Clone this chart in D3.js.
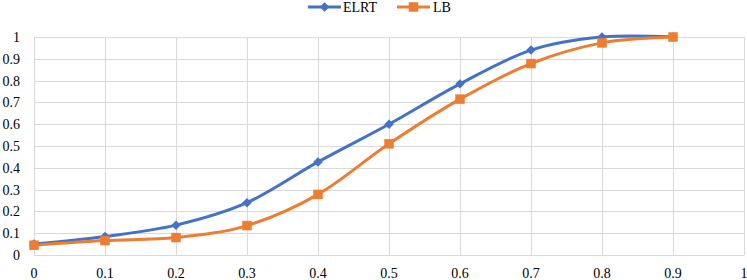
<!DOCTYPE html>
<meta charset="utf-8">
<style>
body { margin: 0; background: #fff; }
text { font-family: "Liberation Serif", "DejaVu Serif", serif; font-size: 14px; }
.grid line { stroke: #d9d9d9; stroke-width: 1; }
</style>
<script src="https://cdn.jsdelivr.net/npm/d3@7"></script>
<body>
<svg id="chart" width="747" height="280"></svg>
<script>
var xValues = [0, 0.1, 0.2, 0.3, 0.4, 0.5, 0.6, 0.7, 0.8, 0.9];
var elrt = [0.05, 0.085, 0.137, 0.24, 0.427, 0.60, 0.785, 0.94, 1.0, 1.0];
var lb = [0.045, 0.066, 0.08, 0.135, 0.278, 0.51, 0.715, 0.878, 0.973, 1.0];
var xTicks = [0, 0.1, 0.2, 0.3, 0.4, 0.5, 0.6, 0.7, 0.8, 0.9, 1];
var yTicks = [0, 0.1, 0.2, 0.3, 0.4, 0.5, 0.6, 0.7, 0.8, 0.9, 1];

var serif = "Liberation Serif, DejaVu Serif, serif";
var svg = d3.select("#chart");
var x = d3.scaleLinear().domain([0, 1]).range([34, 744]);
var y = d3.scaleLinear().domain([0, 1]).range([255, 37]);

// gridlines
var grid = svg.append("g").attr("class", "grid");
grid.selectAll(".gx").data(xTicks).enter().append("line")
    .attr("x1", function(d) { return Math.round(x(d)) + 0.5; })
    .attr("x2", function(d) { return Math.round(x(d)) + 0.5; })
    .attr("y1", y(1)).attr("y2", y(0));
grid.selectAll(".gy").data(yTicks).enter().append("line")
    .attr("x1", x(0)).attr("x2", x(1))
    .attr("y1", function(d) { return Math.round(y(d)) + 0.5; })
    .attr("y2", function(d) { return Math.round(y(d)) + 0.5; });

// y labels
svg.append("g").selectAll("text").data(yTicks).enter().append("text")
    .style("font-family", serif)
    .attr("x", 20).attr("y", function(d) { return y(d); })
    .attr("dy", "0.35em").attr("text-anchor", "end")
    .text(function(d) { return d3.format("")(d); });

// x labels
svg.append("g").selectAll("text").data(xTicks).enter().append("text")
    .style("font-family", serif)
    .attr("x", function(d) { return x(d); }).attr("y", 273)
    .attr("dy", "0.35em").attr("text-anchor", "middle")
    .text(function(d) { return d3.format("")(d); });

var series = [
    { name: "ELRT", values: elrt, color: "#4472C4", shape: d3.symbolSquare, size: 45, rot: 45 },
    { name: "LB", values: lb, color: "#ED7D31", shape: d3.symbolSquare, size: 90, rot: 0 }
];

var line = d3.line()
    .x(function(d, i) { return x(xValues[i]); })
    .y(function(d) { return y(d); })
    .curve(d3.curveCardinal.tension(0));

series.forEach(function(s) {
    svg.append("path").datum(s.values)
        .attr("d", line)
        .attr("fill", "none")
        .attr("stroke", s.color)
        .attr("stroke-width", 3);
});
series.forEach(function(s) {
    svg.append("g").selectAll("path").data(s.values).enter().append("path")
        .attr("transform", function(d, i) { return "translate(" + x(xValues[i]) + "," + y(d) + ") rotate(" + s.rot + ")"; })
        .attr("d", d3.symbol().type(s.shape).size(s.size))
        .attr("fill", s.color);
});

// legend
var legend = svg.append("g");
var legendItems = [
    { s: series[0], x0: 308, tx: 343 },
    { s: series[1], x0: 397, tx: 433 }
];
legendItems.forEach(function(it) {
    legend.append("line")
        .attr("x1", it.x0).attr("x2", it.x0 + 33)
        .attr("y1", 7).attr("y2", 7)
        .attr("stroke", it.s.color).attr("stroke-width", 3);
    legend.append("path")
        .attr("transform", "translate(" + (it.x0 + 16.5) + ",7) rotate(" + it.s.rot + ")")
        .attr("d", d3.symbol().type(it.s.shape).size(it.s.size))
        .attr("fill", it.s.color);
    legend.append("text")
        .style("font-family", serif)
        .attr("x", it.tx).attr("y", 7).attr("dy", "0.35em")
        .text(it.s.name);
});
</script>
</body>
